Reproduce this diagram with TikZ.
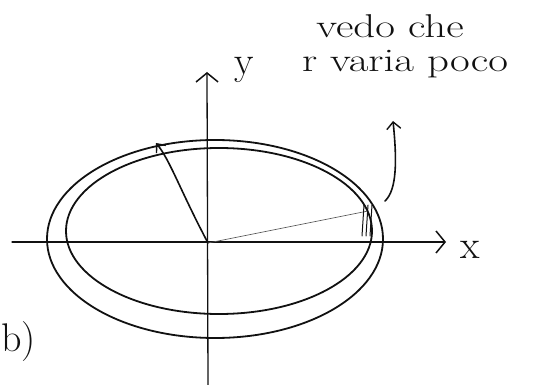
\documentclass[tikz,border=0pt]{standalone}
\usepackage{tikz}
\usetikzlibrary{arrows.meta,positioning}
\definecolor{sketchink}{HTML}{111111}
\definecolor{sketchfaint}{HTML}{555555}

\begin{document}
\begin{tikzpicture}[
  x=1pt,y=-1pt,
  ink/.style={draw=sketchink,line width=1.6pt,line cap=round,line join=round},
  faint/.style={draw=sketchfaint,line width=0.6pt,line cap=round},
  axisline/.style={ink,line width=1.3pt,-{Straight Barb[length=9pt,width=22pt,line width=1.5pt]}},
  orbit/.style={ink,line width=1.8pt},
  label/.style={font=\fontsize{40}{42}\selectfont,text=sketchink,inner sep=0pt},
  note/.style={font=\fontsize{33}{35}\selectfont,text=sketchink,inner sep=0pt,anchor=base,xscale=1.3}
]
\useasboundingbox (0,0) rectangle (536,385);

% axes
\coordinate (O) at (208,243);
\coordinate (xstart) at (12,242);
\coordinate (xend) at (446,242);
\coordinate (ystart) at (208,385);
\coordinate (yend) at (207,72);
\draw[axisline] (xstart) -- (xend);
\draw[axisline] (ystart) -- (yend);
\node[label] (ylab) at (244,70) {y};
\node[label] (xlab) at (470,250) {x};

% orbit, drawn twice
\draw[orbit] (215,239) ellipse [x radius=168,y radius=99];
\draw[orbit] (219,231) ellipse [x radius=153,y radius=83];

% radius vectors
\coordinate (rtop) at (156,143);
\coordinate (rright) at (368,211);
\draw[ink,-{Straight Barb[length=7pt,width=12pt,line width=1.4pt]}] (O) .. controls (180,190) and (170,160) .. (rtop);
\draw[faint] (O) -- (rright);
\foreach \dx in {0,4,8}
  \draw[ink,line width=1pt] (362+\dx,236) -- (364+\dx,205);

% r changes a little
\coordinate (hookend) at (385,201);
\coordinate (hooktip) at (393,121);
\draw[ink,-{Straight Barb[length=7pt,width=14pt,line width=1.4pt]}] (hookend) .. controls (397,190) and (397,160) .. (hooktip);
\node[note] (note1) at (390,38) {vedo che};
\node[note] (note2) at (405,72) {r varia poco};

\node[label,anchor=west,font=\fontsize{40}{42}\selectfont] (part) at (1,342) {b)};
\end{tikzpicture}
\end{document}
